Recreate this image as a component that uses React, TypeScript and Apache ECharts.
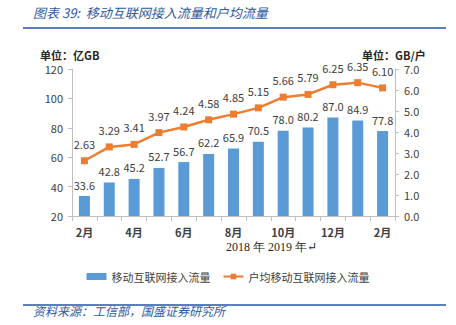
import React, { useEffect, useRef } from "react";
import * as echarts from "echarts";

const categories = ["2月", "3月", "4月", "5月", "6月", "7月", "8月", "9月", "10月", "11月", "12月", "1月", "2月"];
const trafficValues = [33.6, 42.8, 45.2, 52.7, 56.7, 62.2, 65.9, 70.5, 78.0, 80.2, 87.0, 84.9, 77.8];
const perUserValues = [2.63, 3.29, 3.41, 3.97, 4.24, 4.58, 4.85, 5.15, 5.66, 5.79, 6.25, 6.35, 6.10];
const seriesNames = ["移动互联网接入流量", "户均移动互联网接入流量"];

const FONT = "'Noto Sans CJK SC', 'Noto Sans', sans-serif";
const BLUE_TITLE = "#2e5a9e";

export default function App() {
  const ref = useRef<HTMLDivElement>(null);
  useEffect(() => {
    if (!ref.current) return;
    const chart = echarts.init(ref.current, null, { renderer: "svg" });
    chart.setOption({
      animation: false,
      textStyle: { fontFamily: FONT },
      grid: { left: 72, right: 61, top: 69, bottom: 109 },
      legend: {
        top: 266,
        left: "center",
        itemGap: 12,
        itemWidth: 20,
        itemHeight: 7,
        textStyle: { fontSize: 11, color: "#404040", fontFamily: FONT },
        data: [
          { name: seriesNames[0], icon: "rect" },
          { name: seriesNames[1] },
        ],
      },
      xAxis: {
        type: "category",
        data: categories,
        axisLine: { lineStyle: { color: "#bfbfbf" } },
        axisTick: { show: true, alignWithLabel: false, interval: 0, length: 5, lineStyle: { color: "#bfbfbf" } },
        axisLabel: { interval: 1, fontSize: 11, color: "#404040", fontWeight: "bold", margin: 10 },
      },
      yAxis: [
        {
          type: "value",
          min: 20,
          max: 120,
          interval: 20,
          axisLine: { show: true, lineStyle: { color: "#bfbfbf" } },
          axisTick: { show: true, length: 4, lineStyle: { color: "#bfbfbf" } },
          splitLine: { show: false },
          axisLabel: { fontSize: 11, color: "#404040", margin: 9 },
        },
        {
          type: "value",
          min: 0,
          max: 7,
          interval: 1,
          axisLine: { show: true, lineStyle: { color: "#bfbfbf" } },
          axisTick: { show: true, length: 4, lineStyle: { color: "#bfbfbf" } },
          splitLine: { show: false },
          axisLabel: { fontSize: 11, color: "#404040", margin: 9, formatter: (v: number) => v.toFixed(1) },
        },
      ],
      series: [
        {
          name: seriesNames[0],
          type: "bar",
          data: trafficValues,
          barWidth: 11,
          itemStyle: { color: "#5b9bd5" },
          label: {
            show: true,
            position: "top",
            distance: 6,
            fontSize: 11,
            color: "#404040",
            formatter: (p: any) => Number(p.value).toFixed(1),
          },
        },
        {
          name: seriesNames[1],
          type: "line",
          yAxisIndex: 1,
          data: perUserValues,
          symbol: "rect",
          symbolSize: 7,
          lineStyle: { color: "#ed7d31", width: 2.5 },
          itemStyle: { color: "#ed7d31" },
          label: {
            show: true,
            position: "top",
            distance: 8,
            fontSize: 11,
            color: "#404040",
            formatter: (p: any) => Number(p.value).toFixed(2),
          },
        },
      ],
      graphic: [
        {
          type: "text",
          left: 33,
          top: 6,
          style: { text: "图表 39:  移动互联网接入流量和户均流量", fontSize: 13, fontStyle: "italic", fill: BLUE_TITLE, fontFamily: FONT },
        },
        { type: "rect", shape: { x: 23, y: 27, width: 423, height: 2 }, style: { fill: "#5a7fbf" } },
        {
          type: "text",
          left: 40,
          top: 49,
          style: { text: "单位：亿GB", fontSize: 11, fontWeight: "bold", fill: "#262626", fontFamily: FONT },
        },
        {
          type: "text",
          left: 362,
          top: 49,
          style: { text: "单位：GB/户", fontSize: 11, fontWeight: "bold", fill: "#262626", fontFamily: FONT },
        },
        {
          type: "text",
          left: 226,
          top: 241,
          style: { text: "2018 年 2019 年↵", fontSize: 12, fill: "#262626", fontFamily: "'Liberation Serif', 'DejaVu Serif', serif" },
        },
        { type: "rect", shape: { x: 23, y: 304, width: 423, height: 2 }, style: { fill: "#5a7fbf" } },
        {
          type: "text",
          left: 33,
          top: 304,
          style: { text: "资料来源：工信部，国盛证券研究所", fontSize: 12, fontStyle: "italic", fill: BLUE_TITLE, fontFamily: FONT },
        },
      ],
    });
    return () => chart.dispose();
  }, []);
  return <div ref={ref} style={{ width: 456, height: 325, position: "absolute", left: 0, top: 0 }} />;
}
